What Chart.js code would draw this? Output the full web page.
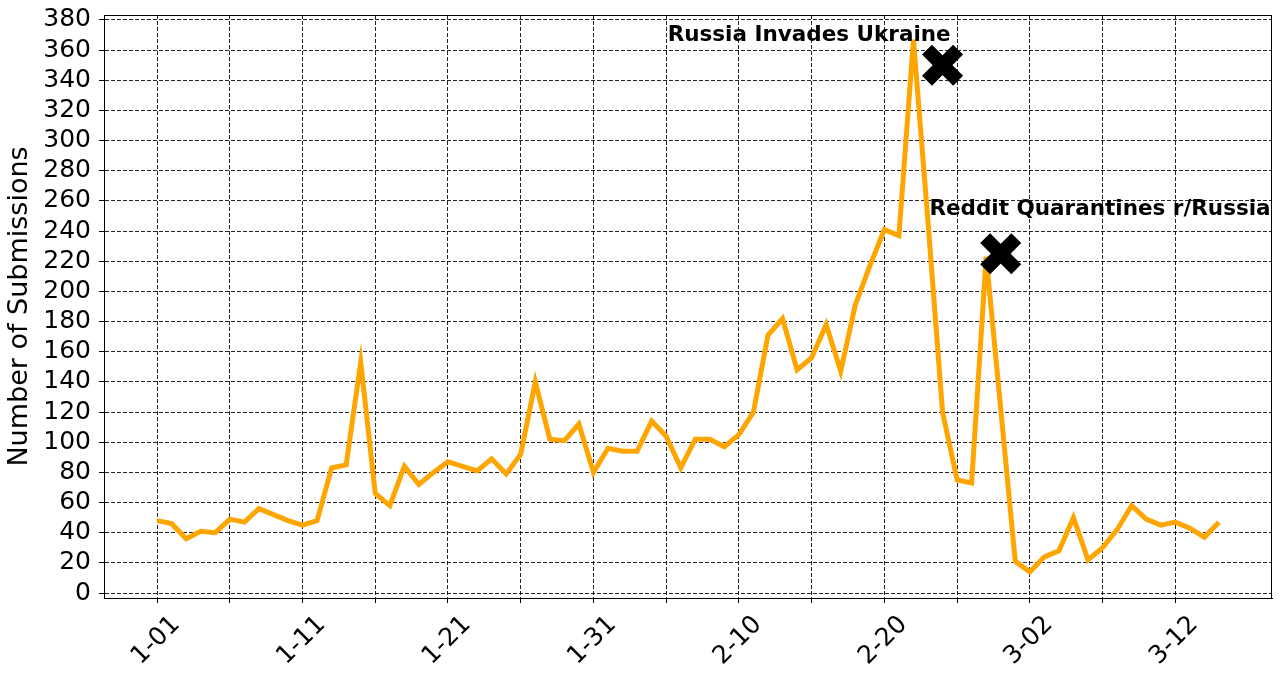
<!DOCTYPE html>
<html>
<head>
<meta charset="utf-8">
<script src="https://cdn.jsdelivr.net/npm/chart.js@4.4.1/dist/chart.umd.min.js"></script>
<style>
  html, body { margin: 0; padding: 0; background: #fff; }
  #wrap { width: 1280px; height: 680px; }
</style>
</head>
<body>
<div id="wrap"><canvas id="myChart"></canvas></div>
<script>
// data, one value per day starting 1-01
const submissions = [
    48, 46, 36, 41, 40, 49, 47, 56, 52, 48,
    45, 48, 83, 85, 153, 66, 58, 84, 72, 80,
    87, 84, 81, 89, 79, 92, 140, 102, 101, 112,
    80, 96, 94, 94, 114, 104, 83, 102, 102, 97,
    105, 120, 171, 182, 148, 156, 178, 147, 191, 217,
    241, 237, 367, 246, 120, 75, 73, 223, 122, 21,
    14, 24, 28, 50, 22, 30, 42, 58, 49, 45,
    47, 43, 37, 47
];
const tickDays = [0, 10, 20, 30, 40, 50, 60, 70];
const tickLabels = ['1-01', '1-11', '1-21', '1-31', '2-10', '2-20', '3-02', '3-12'];
const eventNames = ['Russia Invades Ukraine', 'Reddit Quarantines r/Russia'];
const eventDays = [54, 58];
const eventValues = [350, 225];

const ctx = document.getElementById("myChart").getContext('2d');
const FONT = 'DejaVu Sans';

// event captions + top/right frame
const extras = {
    id: 'extras',
    afterDatasetsDraw(chart) {
        const c = chart.ctx;
        const xs = chart.scales.x, ys = chart.scales.y;
        const a = chart.chartArea;
        c.save();
        c.strokeStyle = '#000';
        c.lineWidth = 1;
        c.strokeRect(a.left + 0.5, a.top + 0.5, a.right - a.left - 1, a.bottom - a.top);
        c.fillStyle = '#000';
        c.font = 'bold 21.5px "' + FONT + '"';
        c.textBaseline = 'alphabetic';
        c.textAlign = 'left';
        // caption anchors (left edge day, baseline value)
        c.fillText(eventNames[0], xs.getPixelForValue(35.1), ys.getPixelForValue(366.3));
        c.fillText(eventNames[1], xs.getPixelForValue(53.1), ys.getPixelForValue(250.5));
        c.restore();
    }
};

function noPad(s) {
    s.paddingTop = 0; s.paddingBottom = 0;
    s.paddingLeft = 0; s.paddingRight = 0;
}

let subChart = new Chart(ctx, {
    type: 'line',
    data: {
        datasets: [{
            label: 'events',
            data: eventDays.map((d, i) => ({x: d, y: eventValues[i]})),
            showLine: false,
            pointStyle: 'crossRot',
            pointRadius: 22,
            pointHoverRadius: 22,
            pointBorderWidth: 14,
            pointHoverBorderWidth: 14,
            borderColor: '#000',
            backgroundColor: '#000',
            clip: false,
            order: 0
        }, {
            label: 'Submissions',
            data: submissions.map((v, i) => ({x: i, y: v})),
            borderColor: '#FFA500',
            borderWidth: 5,
            pointRadius: 0,
            tension: 0,
            fill: false,
            order: 1
        }]
    },
    options: {
        responsive: true,
        maintainAspectRatio: false,
        animation: false,
        layout: {autoPadding: false, padding: {left: 0, right: 8, top: 15, bottom: 0}},
        plugins: {legend: {display: false}, tooltip: {enabled: false}},
        scales: {
            x: {
                type: 'linear',
                min: -3.65,
                max: 76.65,
                afterBuildTicks: (s) => { s.ticks = [0, 5, 10, 15, 20, 25, 30, 35, 40, 45, 50, 55, 60, 65, 70].map(v => ({value: v})); },
                afterFit: (s) => { s.height = 82; noPad(s); },
                grid: {color: 'rgba(0,0,0,0.85)', lineWidth: 1, tickLength: 5, tickColor: '#000'},
                border: {display: true, color: '#000', width: 1, dash: [4, 2]},
                ticks: {
                    autoSkip: false,
                    maxRotation: 45,
                    minRotation: 45,
                    labelOffset: 19,
                    padding: 7,
                    color: '#000',
                    font: {family: FONT, size: 25},
                    callback: (v) => {
                        const i = tickDays.indexOf(v);
                        return i >= 0 ? tickLabels[i] : '';
                    }
                }
            },
            y: {
                min: -3.3,
                max: 383.3,
                afterBuildTicks: (s) => {
                    const t = [];
                    for (let v = 0; v <= 380; v += 20) t.push({value: v});
                    s.ticks = t;
                },
                afterFit: (s) => { s.width = 104; noPad(s); },
                grid: {color: 'rgba(0,0,0,0.85)', lineWidth: 1, tickLength: 5, tickColor: '#000'},
                border: {display: true, color: '#000', width: 1, dash: [4, 2]},
                title: {
                    display: true,
                    text: 'Number of Submissions',
                    color: '#000',
                    font: {family: FONT, size: 27},
                    padding: {top: 4, bottom: 0}
                },
                ticks: {
                    autoSkip: false,
                    padding: 8,
                    color: '#000',
                    font: {family: FONT, size: 25},
                    callback: (v) => String(v)
                }
            }
        }
    },
    plugins: [extras]
});
</script>
</body>
</html>
